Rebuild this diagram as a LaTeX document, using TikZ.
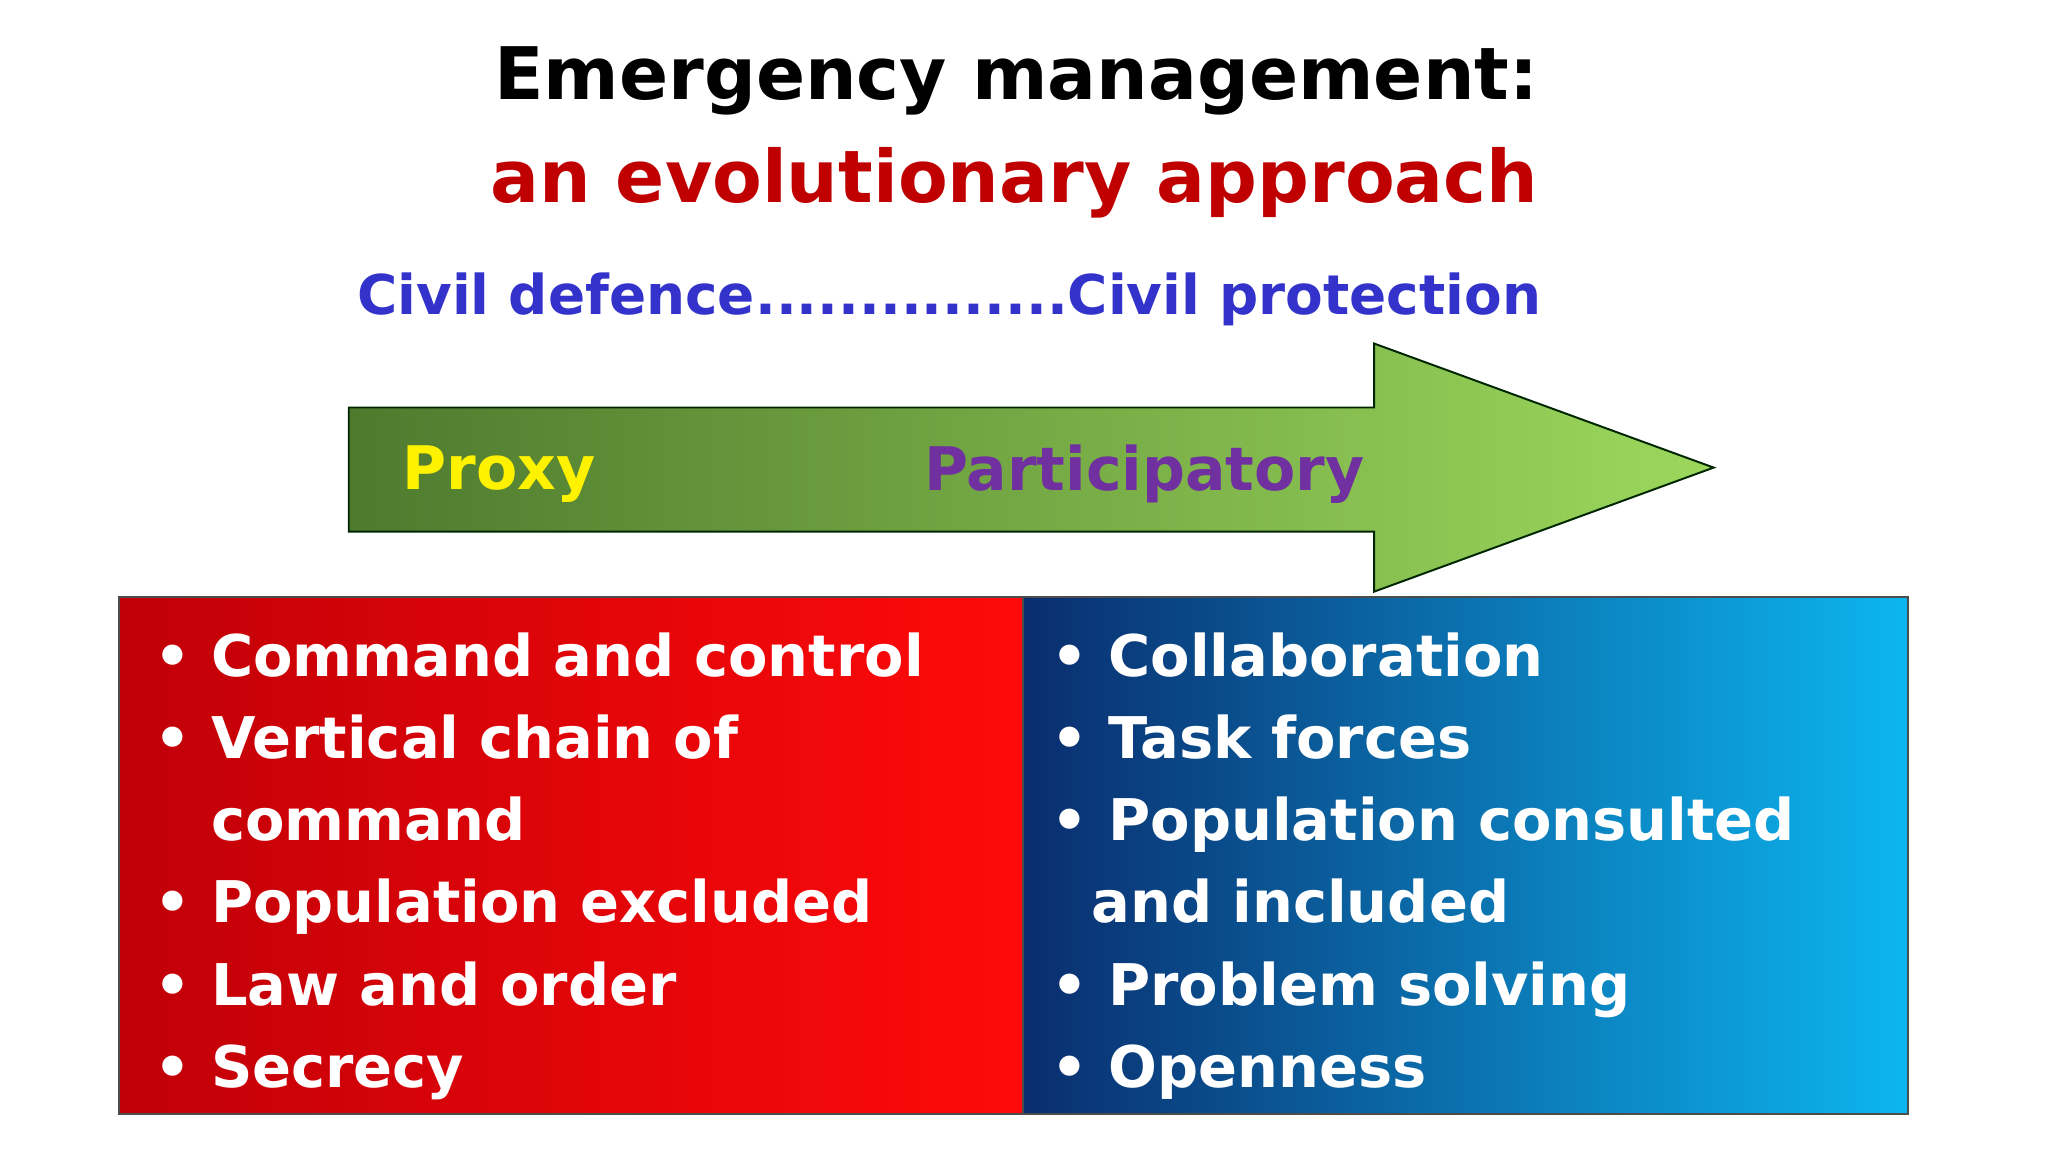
\documentclass[tikz,border=0pt]{standalone}
\usepackage{fontspec}
\setmainfont{DejaVu Sans}
\usetikzlibrary{calc}
\definecolor{ttlred}{HTML}{C00000}
\definecolor{civblue}{HTML}{3333CC}
\definecolor{purp}{HTML}{7030A0}
\definecolor{grL}{HTML}{4E7A2E}
\definecolor{grR}{HTML}{9CD85C}
\definecolor{rdL}{HTML}{C00008}
\definecolor{rdR}{HTML}{FF0A0A}
\definecolor{blL}{HTML}{0A2D6E}
\definecolor{blR}{HTML}{0CB6F0}
\begin{document}
\begin{tikzpicture}[x=1pt,y=-1pt,
  bul/.style={anchor=north west,text=white,font=\bfseries\fontsize{44}{63}\selectfont,align=left,inner sep=0pt},
  ttl/.style={anchor=east,font=\bfseries\fontsize{55.5}{60}\selectfont,inner sep=0pt}]
\useasboundingbox[fill=white] (0,0) rectangle (1568,882);
\node[ttl] (t1) at (1178,62) {Emergency management:};
\node[ttl,text=ttlred] (t2) at (1178,140) {an evolutionary approach};
\node[ttl,text=civblue,font=\bfseries\fontsize{42}{50}\selectfont] (t3) at (1180,229) {Civil defence...............Civil protection};
% arrow
\shade[left color=grL,right color=grR,draw=black!85!green,line width=1.5pt]
  (267,312) -- (1052,312) -- (1052,263) -- (1312,358) -- (1052,453) -- (1052,407) -- (267,407) -- cycle;
\node[anchor=west,text=yellow,font=\bfseries\fontsize{46}{50}\selectfont,inner sep=0pt] (px) at (308,363) {Proxy};
\node[anchor=east,text=purp,font=\bfseries\fontsize{46}{50}\selectfont,inner sep=0pt] (pt) at (1045,363) {Participatory};
% boxes
\shade[left color=rdL,right color=rdR,draw=black!70,line width=1.5pt] (91,457) rectangle (783,853);
\shade[left color=blL,right color=blR,draw=black!70,line width=1.5pt] (783,457) rectangle (1461,853);
\node[bul] (lb) at (118,484) {•\ Command and control\\•\ Vertical chain of\\\hphantom{•\ }command\\•\ Population excluded\\•\ Law and order\\•\ Secrecy};
\node[bul] (rb) at (805,484) {•\ Collaboration\\•\ Task forces\\•\ Population consulted\\\ \ and included\\•\ Problem solving\\•\ Openness};
\end{tikzpicture}
\end{document}
